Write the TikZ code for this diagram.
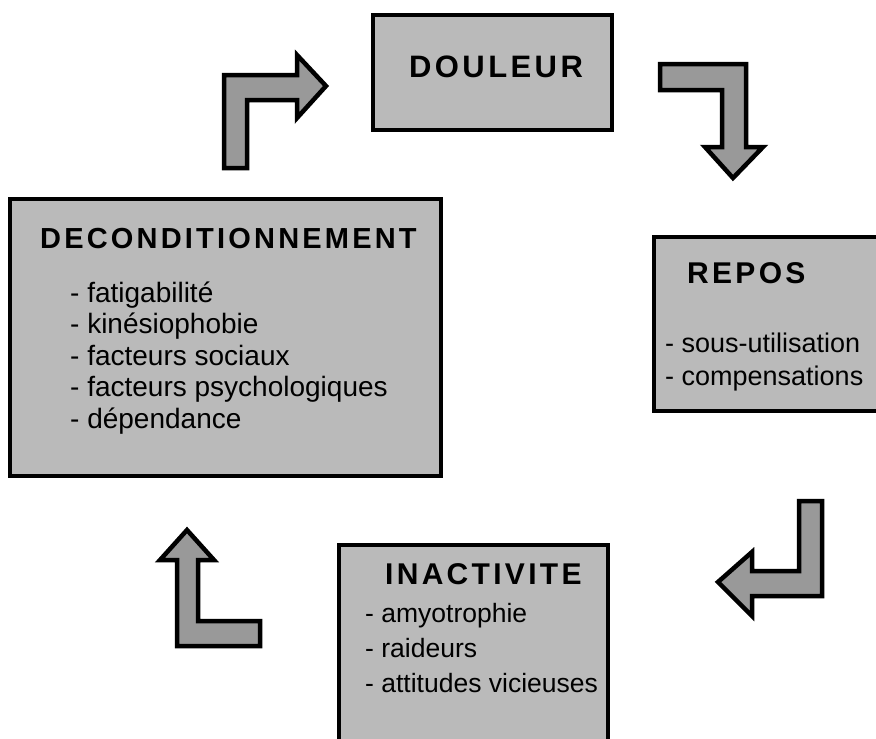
\documentclass[tikz,border=0pt]{standalone}
\usepackage{fontspec}
\setmainfont{Liberation Sans}
\newfontfamily\titlefont[LetterSpace=11]{Liberation Sans}
\begin{document}
\begin{tikzpicture}[x=1pt,y=-1pt,
  box/.style={draw=black, line width=4pt, fill=black!27, anchor=north west, inner sep=0pt, outer sep=0pt},
  blockarrow/.style={draw=black, line width=4.5pt, line join=miter, fill=black!40},
  title/.style={anchor=base west, inner sep=0pt, font=\titlefont\bfseries\fontsize{#1}{#1}\selectfont},
  item/.style={anchor=base west, inner sep=0pt, font=\fontsize{#1}{#1}\selectfont}
]
\useasboundingbox (0,0) rectangle (876,739);
\clip (0,0) rectangle (876,739);

% boxes
\node[box, minimum width=239pt, minimum height=115pt] (douleur) at (373,15) {};
\node[box, minimum width=240pt, minimum height=174pt] (repos) at (654,237) {};
\node[box, minimum width=431pt, minimum height=277pt] (decon) at (10,199) {};
\node[box, minimum width=269pt, minimum height=220pt] (inact) at (339,545) {};

% titles
\node[title=31] (tdouleur) at (409,77) {DOULEUR};
\node[title=30] (trepos) at (687,283) {REPOS};
\node[title=29] (tdecon) at (40,248) {DECONDITIONNEMENT};
\node[title=30] (tinact) at (385,584) {INACTIVITE};

% items
\node[item=27] (r1) at (665,352) {- sous-utilisation};
\node[item=27] (r2) at (665,385) {- compensations};

\node[item=28] (d1) at (70,302) {- fatigabilité};
\node[item=28] (d2) at (70,333) {- kinésiophobie};
\node[item=28] (d3) at (70,365) {- facteurs sociaux};
\node[item=28] (d4) at (70,396) {- facteurs psychologiques};
\node[item=28] (d5) at (70,428) {- dépendance};

\node[item=26.5] (i1) at (365,622) {- amyotrophie};
\node[item=26.5] (i2) at (365,657) {- raideurs};
\node[item=26.5] (i3) at (365,692) {- attitudes vicieuses};

% block arrows
% top-left: up then right
\draw[blockarrow] (224,168) -- (224,75) -- (297,75) -- (297,55) -- (326,86)
  -- (297,118) -- (297,100) -- (247,100) -- (247,168) -- cycle;
% top-right: right then down
\draw[blockarrow] (660,64) -- (746,64) -- (746,147) -- (763,147) -- (733,178)
  -- (705,147) -- (722,147) -- (722,90) -- (660,90) -- cycle;
% bottom-right: down then left
\draw[blockarrow] (799,501) -- (822,501) -- (822,596) -- (752,596) -- (752,616)
  -- (718,582) -- (752,552) -- (752,571) -- (799,571) -- cycle;
% bottom-left: foot right, then up
\draw[blockarrow] (187,530) -- (214,560) -- (198,560) -- (198,621) -- (260,621)
  -- (260,646) -- (177,646) -- (177,560) -- (160,560) -- cycle;
\end{tikzpicture}
\end{document}
